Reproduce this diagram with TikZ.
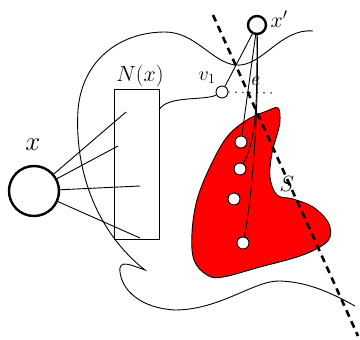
\RequirePackage{fix-cm}
\documentclass[tikz,border=0pt]{standalone}
\usetikzlibrary{positioning}
\begin{document}
\begin{tikzpicture}[x=1pt,y=-1pt,line width=0.9pt,
  bigvertex/.style={circle,draw,line width=2.4pt,inner sep=0pt},
  smallvertex/.style={circle,draw,fill=white,inner sep=0pt,minimum size=12pt},
  lbl/.style={inner sep=0pt,font=\fontsize{20}{22}\selectfont},
  biglbl/.style={inner sep=0pt,font=\fontsize{22}{24}\selectfont}]
  \useasboundingbox (0,0) rectangle (360,340);
  % 点x与邻域N(x)
  \node[bigvertex,minimum size=50pt] (x) at (34,191) {};
  \node[inner sep=0pt,font=\fontsize{27}{29}\selectfont] (xlab) at (33,145) {$x$};
  \node[draw,minimum width=45pt,minimum height=150pt,inner sep=0pt] (N) at (136.5,164) {};
  \node[biglbl] (Nlab) at (140,76) {$N(x)$};
  \coordinate (n1) at (126,112);
  \coordinate (n2) at (118,146);
  \coordinate (n3) at (140,186);
  \coordinate (n4) at (140,238);
  \foreach \i in {1,...,4}
    \draw (x) -- (n\i);
  % 大曲线
  \draw (313,31) .. controls (280,28) and (262,68) .. (235,65)
    .. controls (212,62) and (195,32) .. (165,32)
    .. controls (120,32) and (82,60) .. (78,110)
    .. controls (74,175) and (100,235) .. (145,270)
    .. controls (133,266) and (118,258) .. (120,272)
    .. controls (122,290) and (140,308) .. (175,310)
    .. controls (220,310) and (255,280) .. (280,281)
    .. controls (310,282) and (335,295) .. (355,306);
  % 红色集合S
  \filldraw[fill=red] plot[smooth cycle,tension=0.6] coordinates {(278,108) (280,121)
    (277,135) (272,153) (270,177) (277,195) (293,199) (313,207) (328,222) (330,237)
    (320,247) (297,257) (260,267) (223,277) (207,275) (194,260) (192,233) (197,200)
    (210,167) (227,137) (247,120) (267,111)};
  \node[biglbl] (Slab) at (287,184) {$S$};
  % 切割线
  \coordinate (sa) at (213,15);
  \coordinate (sb) at (358,336);
  \draw[line width=2.6pt,dash pattern=on 7pt off 5pt] (sa) -- (sb);
  % 点v1, x'和S中的点
  \node[smallvertex] (v1) at (222,92) {};
  \node[lbl] (v1lab) at (207,78) {$v_1$};
  \node[bigvertex,minimum size=18pt] (xp) at (257,25) {};
  \node[biglbl] (xplab) at (279,19) {$x'$};
  \node[lbl] (elab) at (256,81) {$e$};
  \node[smallvertex] (d1) at (241,142) {};
  \node[smallvertex] (d2) at (240,169) {};
  \node[smallvertex] (d3) at (234,199) {};
  \node[smallvertex] (d4) at (243,243) {};
  \coordinate (nv) at (159,110);
  \coordinate (ed) at (276,93);
  \draw (nv) .. controls (167,95) and (205,101) .. (v1);
  \draw[line width=1.2pt,dash pattern=on 1.2pt off 5.8pt] (v1) -- (ed);
  \draw (xp) -- (v1);
  \draw (xp) -- (d1);
  \draw (xp) .. controls (257,100) and (257,140) .. (d2);
  \draw (xp) .. controls (259,110) and (252,200) .. (d4);
\end{tikzpicture}
\end{document}
